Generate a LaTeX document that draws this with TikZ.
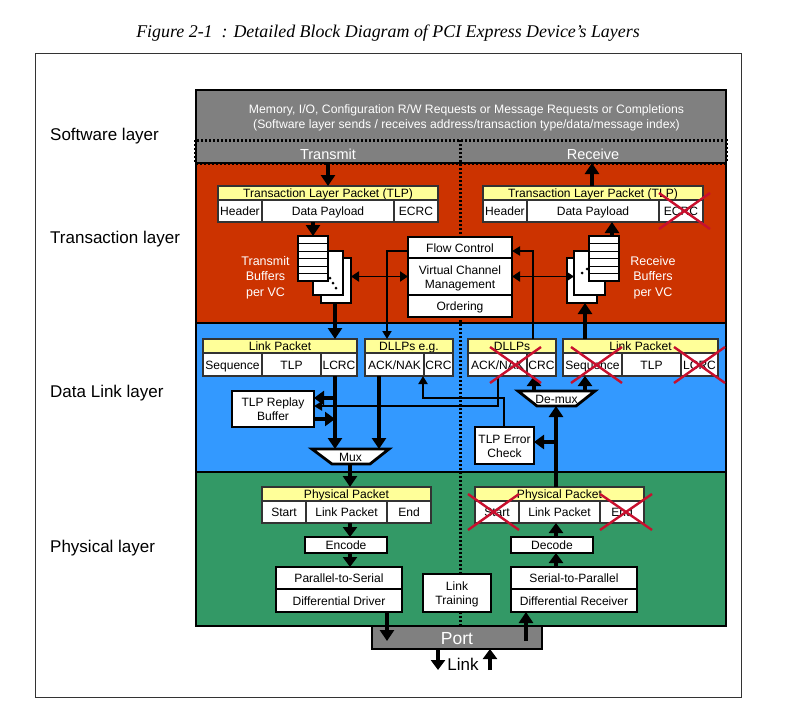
\documentclass[tikz,border=0pt]{standalone}
\usepackage{fontspec}
\setmainfont{Liberation Sans}
\newfontfamily\titlefont{Liberation Serif}
\usetikzlibrary{arrows.meta}
\definecolor{softgray}{HTML}{808080}
\definecolor{tlred}{HTML}{CC3300}
\definecolor{dlblue}{HTML}{3399FF}
\definecolor{phgreen}{HTML}{339966}
\definecolor{pkyellow}{HTML}{FFFF99}
\definecolor{xred}{HTML}{C8102E}
\newcommand\fsz[1]{\fontsize{#1}{#1}\selectfont}
\newcommand\bx[7][]{%
  \pgfmathsetmacro\bxw{#5-#3}\pgfmathsetmacro\bxh{#6-#4}%
  \pgfmathsetmacro\bxx{(#3+#5)/2}\pgfmathsetmacro\bxy{(#4+#6)/2}%
  \node[rect,minimum width=\bxw pt,minimum height=\bxh pt,#1] (#2) at (\bxx,\bxy) {};
  \node[rect,yshift=-1.7pt,execute at begin node=\vphantom{Ag},execute at end node=\vphantom{Ag}] (#2t) at (#2) {#7};}
\newcommand\xcross[4]{\draw[crossline] (#1,#2) -- (#3,#4); \draw[crossline] (#1,#4) -- (#3,#2);}
\tikzset{
  x=1pt,y=-1pt,
  rect/.style={inner sep=0pt,outer sep=0pt,align=center,font=\fsz{12.05},text=black},
  band/.style={draw=black,line width=2.4pt},
  hdr/.style={fill=pkyellow,draw=black!80,line width=1.5pt},
  cell/.style={fill=white,draw=black!80,line width=1.5pt},
  block/.style={fill=white,draw=black,line width=2.8pt},
  buf/.style={fill=white,draw=black,line width=2.3pt},
  layerlabel/.style={inner sep=0pt,anchor=west,font=\fsz{17},text=black},
  bufflabel/.style={inner sep=0pt,align=center,font=\fsz{12.5},text=white},
  bigarrow/.style={line width=4.2pt,-{Triangle[length=11pt,width=14pt]}},
  midarrow/.style={line width=4.2pt,-{Triangle[length=10pt,width=14pt]}},
  thinarrow/.style={line width=1.8pt,-{Triangle[length=8pt,width=9pt]}},
  dblarrow/.style={line width=1.8pt,{Triangle[length=8pt,width=10pt]}-{Triangle[length=8pt,width=10pt]}},
  crossline/.style={draw=xred,line width=2.4pt},
  dotline/.style={line width=3pt,dash pattern=on 2pt off 2pt},
}
\begin{document}
\begin{tikzpicture}
\useasboundingbox (0,0) rectangle (793,723);
\draw[line width=0.8pt,draw=black!80] (35,53) rectangle (741,697);
\node[inner sep=0pt,font=\titlefont\itshape\fsz{17.9}] (title) at (388,33.5) {Figure 2-1\ \ : Detailed Block Diagram of PCI Express Device’s Layers};
% layer labels
\node[layerlabel] (lsw) at (50,136) {Software layer};
\node[layerlabel] (ltl) at (50,239.5) {Transaction layer};
\node[layerlabel] (ldl) at (50,393) {Data Link layer};
\node[layerlabel] (lph) at (50,548) {Physical layer};
% bands
\bx[fill=softgray,band]{port}{372}{626}{542}{649}{}
\bx[fill=softgray,band]{soft}{196}{90}{726}{163}{}
\bx[fill=tlred,band]{tl}{196}{163}{726}{323}{}
\bx[fill=dlblue,band]{dl}{196}{323}{726}{472}{}
\bx[fill=phgreen,band]{ph}{196}{472}{726}{626}{}
\node[inner sep=0pt,align=center,font=\fsz{12.2},text=white] (softtext) at (466.5,117.5) {Memory, I/O, Configuration R/W Requests or Message Requests or Completions\\[2.5pt](Software layer sends / receives address/transaction type/data/message index)};
\draw[dotline] (195,140) rectangle (726,163);
\coordinate (dotA) at (460,140);
\coordinate (dotB) at (460,626);
\draw[dotline] (dotA) -- (dotB);
\node[inner sep=0pt,font=\fsz{14.5},text=white] (txlabel) at (328,154) {Transmit};
\node[inner sep=0pt,font=\fsz{14.5},text=white] (rxlabel) at (593,154) {Receive};
\node[inner sep=0pt,font=\fsz{17.5},text=white] (porttext) at (457,639) {Port};
\node[inner sep=0pt,font=\fsz{17},text=black] (linktext) at (463,664) {Link};
% transmit TLP
\bx[hdr]{ttlp}{218}{186}{438}{200}{Transaction Layer Packet (TLP)}
\bx[cell]{thead}{218}{200}{262}{222}{Header}
\bx[cell]{tdata}{262}{200}{394}{222}{Data Payload}
\bx[cell]{tecrc}{394}{200}{438}{222}{ECRC}
% receive TLP
\bx[hdr]{rtlp}{483}{186}{703}{200}{Transaction Layer Packet (TLP)}
\bx[cell]{rhead}{483}{200}{527}{222}{Header}
\bx[cell]{rdata}{527}{200}{659}{222}{Data Payload}
\bx[cell]{recrc}{659}{200}{703}{222}{ECRC}
% transmit buffers
\bx[buf]{tbc}{321}{258}{351}{303}{}
\bx[buf]{tbb}{313}{251}{343}{295}{}
\bx[buf]{tba}{298}{236}{328}{281}{}
\foreach \yy in {243,251,258,266,273} \draw[line width=1pt] (298,\yy) -- (328,\yy);
\fill (330,278) circle (1.5) (333,283) circle (1.5) (336,288) circle (1.5);
\node[bufflabel] (tblabel) at (265.5,277.5) {Transmit\\[3pt]Buffers\\[3pt]per VC};
% receive buffers
\bx[buf]{rbc}{567}{258}{597}{303}{}
\bx[buf]{rbb}{574}{251}{605}{295}{}
\bx[buf]{rba}{589}{236}{619}{281}{}
\foreach \yy in {243,251,258,266,273} \draw[line width=1pt] (589,\yy) -- (619,\yy);
\fill (582,273) circle (1.5) (587,269) circle (1.5);
\node[bufflabel] (rblabel) at (653,277.5) {Receive\\[3pt]Buffers\\[3pt]per VC};
% VC block
\bx[block]{flow}{408}{237}{512}{258}{Flow Control}
\bx[block]{vc}{408}{258}{512}{295}{Virtual Channel\\[2pt]Management}
\bx[block]{ord}{408}{295}{512}{317}{Ordering}
% link packets
\bx[hdr]{tlp}{203}{339}{357}{353}{Link Packet}
\bx[cell]{tseq}{203}{353}{262}{376}{Sequence}
\bx[cell]{ttl}{262}{353}{321}{376}{TLP}
\bx[cell]{tlc}{321}{353}{357}{376}{LCRC}
\bx[hdr]{tdl}{365}{339}{453}{353}{DLLPs e.g.}
\bx[cell]{tack}{365}{353}{424}{376}{ACK/NAK}
\bx[cell]{tcrc}{424}{353}{453}{376}{CRC}
\bx[hdr]{rdl}{468}{339}{556}{353}{DLLPs}
\bx[cell]{rack}{468}{353}{527}{376}{ACK/NAK}
\bx[cell]{rcrc}{527}{353}{556}{376}{CRC}
\bx[hdr]{rlp}{563}{339}{718}{353}{Link Packet}
\bx[cell]{rseq}{563}{353}{622}{376}{Sequence}
\bx[cell]{rtl}{622}{353}{681}{376}{TLP}
\bx[cell]{rlc}{681}{353}{718}{376}{LCRC}
\bx[block]{replay}{232}{391}{314}{427}{TLP Replay\\[2pt]Buffer}
\bx[block]{errchk}{475}{427}{534}{464}{TLP Error\\[2pt]Check}
% mux / demux
\draw[block] (312,449) -- (389,449) -- (370,464) -- (332,464) -- cycle;
\bx[]{mux}{312}{449}{389}{464}{Mux}
\draw[block] (518,391) -- (595,391) -- (576,406) -- (537,406) -- cycle;
\bx[]{demux}{518}{391}{595}{406}{De-mux}
% physical packets
\bx[hdr]{tpp}{262}{487}{431}{501}{Physical Packet}
\bx[cell]{tst}{262}{501}{306}{523}{Start}
\bx[cell]{tlk}{306}{501}{387}{523}{Link Packet}
\bx[cell]{tend}{387}{501}{431}{523}{End}
\bx[hdr]{rpp}{475}{487}{644}{501}{Physical Packet}
\bx[cell]{rst}{475}{501}{519}{523}{Start}
\bx[cell]{rlk}{519}{501}{600}{523}{Link Packet}
\bx[cell]{rend}{600}{501}{644}{523}{End}
\bx[block]{encode}{305}{537}{387}{553}{Encode}
\bx[block]{decode}{511}{537}{593}{553}{Decode}
\bx[block]{p2s}{276}{567}{402}{589}{Parallel-to-Serial}
\bx[block]{drv}{276}{589}{402}{612}{Differential Driver}
\bx[block]{s2p}{511}{567}{637}{589}{Serial-to-Parallel}
\bx[block]{rcv}{511}{589}{637}{612}{Differential Receiver}
\bx[block]{train}{423}{574}{491}{612}{Link\\[2pt]Training}
% connectors: transaction layer
\draw[bigarrow] (328,0 |- tl.north) -- (328,0 |- ttlp.north);
\draw[bigarrow] (592,0 |- rtlp.north) -- (592,0 |- tl.north);
\draw[bigarrow] (313,0 |- thead.south) -- (313,0 |- tba.north);
\draw[bigarrow] (612,0 |- rba.north) -- (612,0 |- rdata.south);
\draw[bigarrow] (335,0 |- tbc.south) -- (335,0 |- tlp.north);
\draw[bigarrow] (585,0 |- rlp.north) -- (585,0 |- rbc.south);
\draw[dblarrow] (tbc.east |- vc.west) -- (vc.west);
\draw[dblarrow] (vc.east) -- (rbb.west |- vc.east);
\draw[thinarrow] (flow.west |- 0,251) -- (387,251) -- (387,0 |- tdl.north);
\draw[thinarrow] (rdl.north -| 533,0) -- (533,251) -- (flow.east |- 0,251);
% connectors: data link layer
\draw[bigarrow] (335,0 |- tlc.south) -- (335,0 |- mux.north);
\draw[bigarrow] (379,0 |- tack.south) -- (379,0 |- mux.north);
\draw[midarrow] (335,398) -- (replay.east |- 0,398);
\draw[midarrow] (replay.east |- 0,419) -- (335,419);
\draw[thinarrow] (498,0 |- rack.south) -- (498,406) -- (replay.east |- 0,406);
\draw[thinarrow] (errchk.north -| 504,0) -- (504,398) -- (423,398) -- (423,0 |- tcrc.south);
\draw[bigarrow] (350,0 |- mux.south) -- (350,0 |- tpp.north);
\draw[line width=4.2pt] (556,0 |- rpp.north) -- (556,442);
\draw[bigarrow] (556,442) -- (556,0 |- demux.south);
\draw[midarrow] (556,442) -- (errchk.east |- 0,442);
\draw[midarrow] (534,0 |- demux.north) -- (534,0 |- rcrc.south);
\draw[midarrow] (585,0 |- demux.north) -- (585,0 |- rseq.south);
% connectors: physical layer
\draw[midarrow] (350,0 |- tlk.south) -- (350,0 |- encode.north);
\draw[midarrow] (350,0 |- encode.south) -- (350,0 |- p2s.north);
\draw[midarrow] (556,0 |- decode.north) -- (556,0 |- rlk.south);
\draw[midarrow] (556,0 |- s2p.north) -- (556,0 |- decode.south);
\draw[bigarrow] (387,0 |- drv.south) -- (387,641);
\draw[bigarrow] (526,641) -- (526,0 |- rcv.south);
\coordinate (linkA) at (438,670);
\coordinate (linkB) at (490,670);
\draw[midarrow] (port.south -| linkA) -- (linkA);
\draw[midarrow] (linkB) -- (port.south -| linkB);
% red crosses
\xcross{659}{193}{710}{229}
\xcross{490}{347}{541}{383}
\xcross{571}{347}{622}{383}
\xcross{674}{347}{725}{383}
\xcross{468}{494}{519}{530}
\xcross{600}{494}{652}{530}
\end{tikzpicture}
\end{document}
